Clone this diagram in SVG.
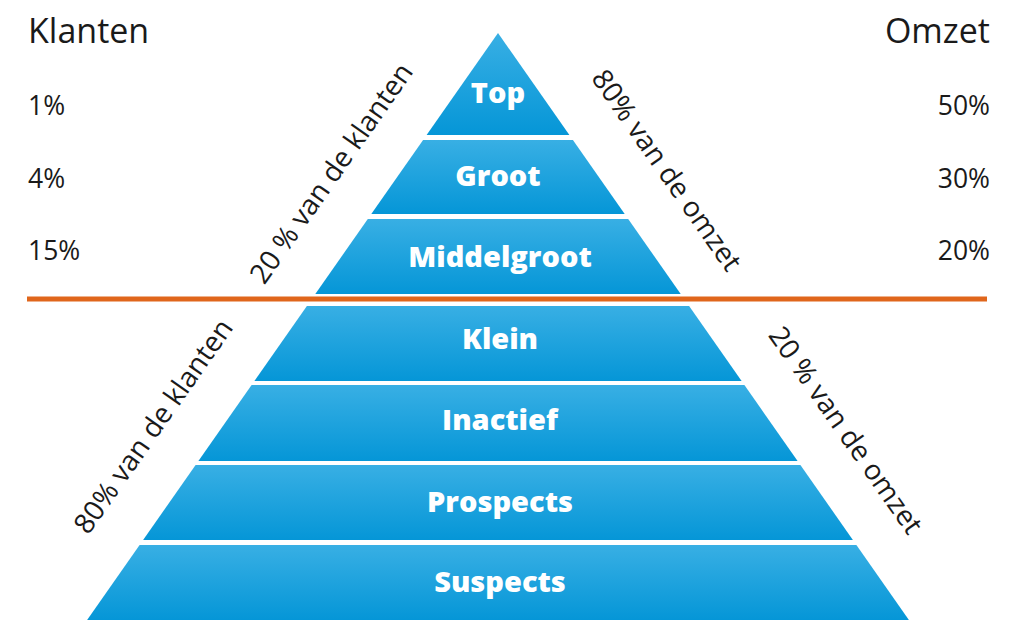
<svg xmlns="http://www.w3.org/2000/svg" width="1024" height="628" viewBox="0 0 1024 628">
<defs>
<linearGradient id="band" x1="0" y1="0" x2="0" y2="1">
<stop offset="0" stop-color="#38afe4"/>
<stop offset="1" stop-color="#0596d7"/>
</linearGradient>
<style>
.band{fill:url(#band);}
.lbl{font-family:"Open Sans","Liberation Sans",sans-serif;font-weight:800;font-size:29px;fill:#ffffff;text-anchor:middle;}
.side{font-family:"Open Sans","Liberation Sans",sans-serif;font-size:26.5px;fill:#1a1a1a;}
.head{font-family:"Open Sans","Liberation Sans",sans-serif;font-size:34px;fill:#1a1a1a;}
.diag{font-family:"Open Sans","Liberation Sans",sans-serif;font-size:28px;fill:#1a1a1a;text-anchor:middle;}
</style>
</defs>
<rect width="1024" height="628" fill="#ffffff"/>

<g id="node-top">
<polygon class="band" points="498,33 569.4,135 426.6,135"/>
<text class="lbl" x="498" y="103">Top</text>
</g>
<g id="node-groot">
<polygon class="band" points="423.1,140 572.9,140 624.7,214 371.3,214"/>
<text class="lbl" x="498" y="186">Groot</text>
</g>
<g id="node-middelgroot">
<polygon class="band" points="367.8,219 628.2,219 680.7,294 315.3,294"/>
<text class="lbl" x="500" y="267">Middelgroot</text>
</g>
<g id="node-klein">
<polygon class="band" points="306.9,306 689.1,306 741.6,381 254.4,381"/>
<text class="lbl" x="500" y="349">Klein</text>
</g>
<g id="node-inactief">
<polygon class="band" points="251.6,385 744.4,385 797.6,461 198.4,461"/>
<text class="lbl" x="500" y="430">Inactief</text>
</g>
<g id="node-prospects">
<polygon class="band" points="195.6,465 800.4,465 852.9,540 143.1,540"/>
<text class="lbl" x="500" y="512">Prospects</text>
</g>
<g id="node-suspects">
<polygon class="band" points="139.6,545 856.4,545 908.9,620 87.1,620"/>
<text class="lbl" x="500" y="592">Suspects</text>
</g>

<g id="connectors">
<line x1="27" y1="299" x2="987" y2="299" stroke="#e0661c" stroke-width="5"/>
</g>

<g id="labels-left">
<text class="head" x="28" y="43">Klanten</text>
<text class="side" x="28" y="115">1%</text>
<text class="side" x="28" y="188">4%</text>
<text class="side" x="28" y="260">15%</text>
</g>
<g id="labels-right">
<text class="head" x="990" y="43" text-anchor="end">Omzet</text>
<text class="side" x="990" y="115" text-anchor="end">50%</text>
<text class="side" x="990" y="188" text-anchor="end">30%</text>
<text class="side" x="990" y="260" text-anchor="end">20%</text>
</g>

<g id="diagonal-labels">
<text class="diag" transform="translate(331,173) rotate(-55)" y="10">20 % van de klanten</text>
<text class="diag" transform="translate(667,170) rotate(55)" y="10">80% van de omzet</text>
<text class="diag" transform="translate(153,426) rotate(-55)" y="10">80% van de klanten</text>
<text class="diag" transform="translate(846,430) rotate(55)" y="10">20 % van de omzet</text>
</g>
</svg>
